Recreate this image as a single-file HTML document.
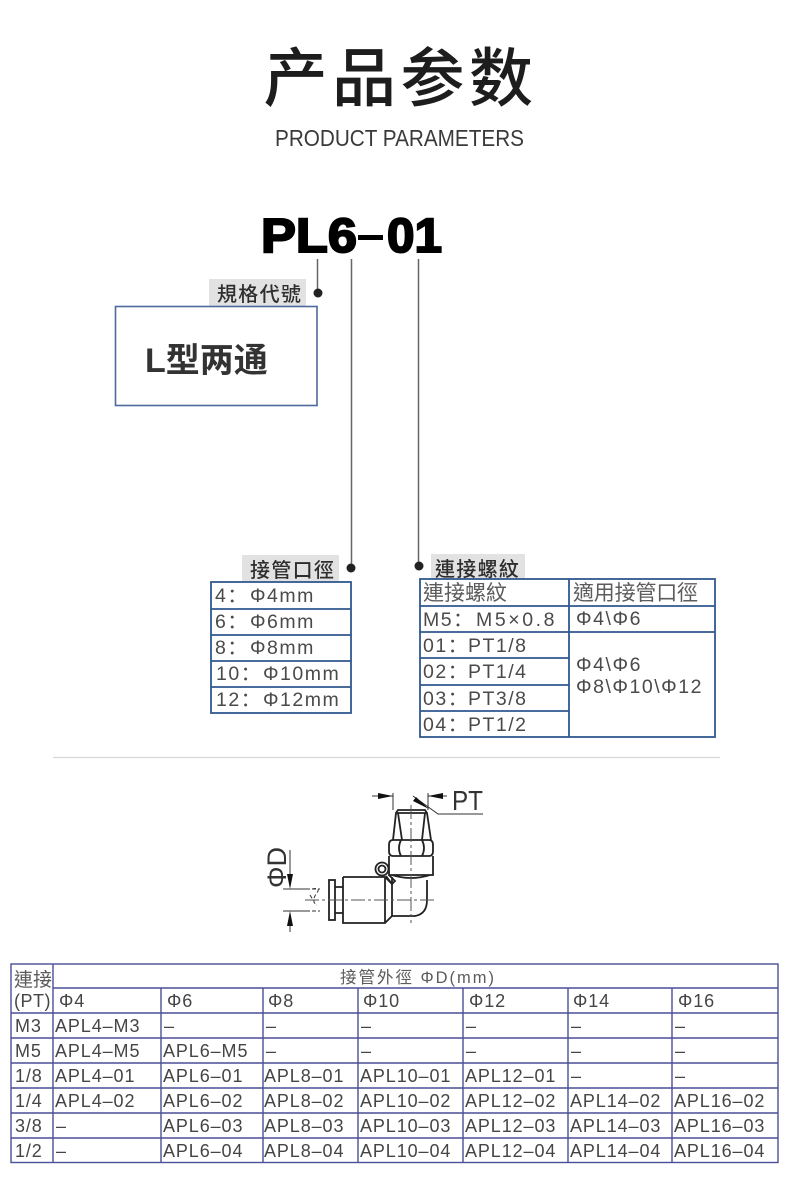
<!DOCTYPE html>
<html><head><meta charset="utf-8"><style>
html,body{margin:0;padding:0;background:#fff}
svg{display:block}
text{font-family:"Liberation Sans","Noto Sans CJK SC",sans-serif;fill:#444}
.c{font-size:18px;letter-spacing:.9px;fill:#454545}
.t{font-size:19.500px;letter-spacing:1.500px;fill:#4a4a4a}
.z{font-family:"Liberation Sans","Noto Sans CJK TC",sans-serif;font-size:19px;fill:#5c5c5c}
.l{font-family:"Liberation Sans","Noto Sans CJK TC",sans-serif;font-size:20px;fill:#2e2e2e;letter-spacing:1.300px;font-weight:500}
.d path,.d rect,.d circle,.d line{fill:none;stroke:#222;stroke-width:1.800}
</style></head><body>
<svg width="790" height="1189" viewBox="0 0 790 1189" xmlns="http://www.w3.org/2000/svg">
<rect width="790" height="1189" fill="#fff"/>
<text x="400.500" y="101" text-anchor="middle" style="font-family:'Noto Sans CJK SC',sans-serif;font-size:64px;font-weight:500;letter-spacing:4.500px;fill:#1d1d1d">产品参数</text>
<text x="275" y="146" textLength="249" lengthAdjust="spacingAndGlyphs" style="font-size:23px;fill:#3a3a3a">PRODUCT PARAMETERS</text>
<text x="261" y="252" textLength="96" lengthAdjust="spacingAndGlyphs" style="font-size:48px;font-weight:bold;fill:#000;stroke:#000;stroke-width:2">PL6</text>
<rect x="358" y="235" width="25" height="5" fill="#000"/>
<text x="387" y="252" textLength="55" lengthAdjust="spacingAndGlyphs" style="font-size:48px;font-weight:bold;fill:#000;stroke:#000;stroke-width:2">01</text>

<g stroke="#666" stroke-width="1.500" fill="none">
<line x1="317.500" y1="259" x2="317.500" y2="292"/>
<line x1="351.500" y1="259" x2="351.500" y2="567"/>
<line x1="418.500" y1="259" x2="418.500" y2="566"/>
</g>
<g fill="#222"><circle cx="318" cy="293" r="4.500"/><circle cx="351" cy="568" r="4.500"/><circle cx="419" cy="566" r="4.500"/></g>

<rect x="209" y="279" width="97" height="27" fill="#e2e2e2"/>
<text x="217" y="301" class="l">規格代號</text>
<rect x="115.500" y="306.500" width="201.500" height="99" fill="#fff" stroke="#4c6b9c" stroke-width="1.600"/>
<text x="145" y="372" style="font-family:'Liberation Sans','Noto Sans CJK SC',sans-serif;font-size:34px;font-weight:bold;fill:#333">L型两通</text>

<rect x="242" y="555" width="97" height="27" fill="#e2e2e2"/>
<text x="250" y="577" class="l">接管口徑</text>
<rect x="431" y="554" width="94" height="25" fill="#e2e2e2"/>
<text x="435" y="576" class="l">連接螺紋</text>

<!-- table 1 -->
<g stroke="#30588f" stroke-width="1.800" fill="none">
<rect x="211" y="582" width="140" height="131"/>
<path d="M211 609H351M211 635H351M211 661H351M211 687H351"/>
</g>
<text class="t" x="215" y="602">4：</text><text class="t" x="250" y="602">Φ4mm</text>
<text class="t" x="215" y="628">6：</text><text class="t" x="250" y="628">Φ6mm</text>
<text class="t" x="215" y="654">8：</text><text class="t" x="250" y="654">Φ8mm</text>
<text class="t" x="216" y="680">10：</text><text class="t" x="263" y="680">Φ10mm</text>
<text class="t" x="216" y="706">12：</text><text class="t" x="263" y="706">Φ12mm</text>

<!-- table 2 -->
<g stroke="#30588f" stroke-width="1.800" fill="none">
<rect x="420" y="579" width="295" height="158"/>
<path d="M569 579V737M420 606H715M420 632H715M420 658H569M420 685H569M420 711H569"/>
</g>
<text x="423" y="600" class="z" textLength="84" style="font-size:21px">連接螺紋</text>
<text x="573" y="600" class="z" textLength="125" style="font-size:21px">適用接管口徑</text>
<text class="t" x="423" y="626">M5：</text><text class="t" x="476" y="626" textLength="80">M5×0.8</text>
<text class="t" x="423" y="652">01：</text><text class="t" x="468" y="652">PT1/8</text>
<text class="t" x="423" y="678">02：</text><text class="t" x="468" y="678">PT1/4</text>
<text class="t" x="423" y="705">03：</text><text class="t" x="468" y="705">PT3/8</text>
<text class="t" x="423" y="731">04：</text><text class="t" x="468" y="731">PT1/2</text>
<text class="t" x="576" y="625" textLength="66">Φ4\Φ6</text>
<text class="t" x="576" y="671" textLength="66">Φ4\Φ6</text>
<text class="t" x="576" y="693" textLength="127">Φ8\Φ10\Φ12</text>

<line x1="53" y1="757.500" x2="720" y2="757.500" stroke="#d8d8d8" stroke-width="1.200"/>

<!-- drawing -->
<g class="d">
<path d="M393 840L396 813L398 810H425L427 813L431 840M396 813H427M398 813L402 840M425 813L422 840"/>
<path d="M393 840H429Q433 840 433 845V851Q433 856 429 856H393Q389 856 389 851V845Q389 840 393 840ZM401 840Q397 848 401 856M422 840Q426 848 422 856M401 840H422M401 856H422"/>
<path d="M389 856V875H433V856M392 875Q411 881 430 875M392 877V916H415Q427 914 427 900V880"/>
<path d="M343 877H385L392 884M343 877V923H385L392 916M385 877V923"/>
<rect x="329" y="880" width="6" height="40"/>
<path d="M335 887H343M335 913H343"/>
<circle cx="382" cy="869" r="6.500"/><circle cx="382" cy="869" r="3.500"/>
<path d="M386 876L392 884L395 881L389 875"/>
</g>
<g stroke="#333" stroke-width="1" fill="none">
<path d="M305 900H437" stroke-dasharray="14 3 3 3" stroke="#555"/>
<path d="M411 805V923" stroke-dasharray="14 3 3 3" stroke="#555"/>
<path d="M283 889H310M283 911H310"/>
<path d="M290 850V885M290 915V932"/>
<path d="M312 889Q322 887 316 894Q311 902 317 905M310 895L313 900M312 911H320M312 889H320" stroke-dasharray="4 2"/>
<path d="M372 796H393M428 796H447M393 793V810M428 793V810"/>
<path d="M413 796L438 814H483"/>
</g>
<g fill="#111">
<path d="M290 889L287 874H293Z"/>
<path d="M290 911L287 926H293Z"/>
<path d="M393 796L378 793V799Z"/>
<path d="M428 796L443 793V799Z"/>
<path d="M429 809L416 797L413 801Z"/>
</g>
<text x="452" y="810" textLength="31" lengthAdjust="spacingAndGlyphs" style="font-size:28px;fill:#333">PT</text>
<text transform="translate(286 888) rotate(-90)" style="font-size:27px;fill:#333">ΦD</text>

<!-- bottom table -->
<g stroke="#4a4f96" stroke-width="1.400" fill="none">
<rect x="11" y="964" width="767" height="198.500"/>
<path d="M53 964V1162.500M161 988V1162.500M263 988V1162.500M358 988V1162.500M463 988V1162.500M568 988V1162.500M672 988V1162.500"/>
<path d="M53 988H778M11 1013H778M11 1038H778M11 1063H778M11 1088H778M11 1113H778M11 1138H778"/>
</g>
<text x="14" y="986" class="z" textLength="38">連接</text>
<text x="14" y="1007" class="c" style="letter-spacing:.5px">(PT)</text>
<text x="340" y="983" class="z" textLength="154" style="font-size:16.500px">接管外徑 ΦD(mm)</text>
<g>
<text class="c" x="59" y="1007">Φ4</text><text class="c" x="167" y="1007">Φ6</text><text class="c" x="268" y="1007">Φ8</text><text class="c" x="363" y="1007">Φ10</text><text class="c" x="469" y="1007">Φ12</text><text class="c" x="573" y="1007">Φ14</text><text class="c" x="678" y="1007">Φ16</text>

<text class="c" x="15" y="1032">M3</text><text class="c" x="55" y="1032">APL4–M3</text><text class="c" x="164" y="1032">–</text><text class="c" x="266" y="1032">–</text><text class="c" x="361" y="1032">–</text><text class="c" x="466" y="1032">–</text><text class="c" x="571" y="1032">–</text><text class="c" x="675" y="1032">–</text>

<text class="c" x="15" y="1057">M5</text><text class="c" x="55" y="1057">APL4–M5</text><text class="c" x="163" y="1057">APL6–M5</text><text class="c" x="266" y="1057">–</text><text class="c" x="361" y="1057">–</text><text class="c" x="466" y="1057">–</text><text class="c" x="571" y="1057">–</text><text class="c" x="675" y="1057">–</text>

<text class="c" x="15" y="1082">1/8</text><text class="c" x="55" y="1082">APL4–01</text><text class="c" x="163" y="1082">APL6–01</text><text class="c" x="264" y="1082">APL8–01</text><text class="c" x="360" y="1082">APL10–01</text><text class="c" x="465" y="1082">APL12–01</text><text class="c" x="571" y="1082">–</text><text class="c" x="675" y="1082">–</text>

<text class="c" x="15" y="1107">1/4</text><text class="c" x="55" y="1107">APL4–02</text><text class="c" x="163" y="1107">APL6–02</text><text class="c" x="264" y="1107">APL8–02</text><text class="c" x="360" y="1107">APL10–02</text><text class="c" x="465" y="1107">APL12–02</text><text class="c" x="570" y="1107">APL14–02</text><text class="c" x="674" y="1107">APL16–02</text>

<text class="c" x="15" y="1132">3/8</text><text class="c" x="56" y="1132">–</text><text class="c" x="163" y="1132">APL6–03</text><text class="c" x="264" y="1132">APL8–03</text><text class="c" x="360" y="1132">APL10–03</text><text class="c" x="465" y="1132">APL12–03</text><text class="c" x="570" y="1132">APL14–03</text><text class="c" x="674" y="1132">APL16–03</text>

<text class="c" x="15" y="1157">1/2</text><text class="c" x="56" y="1157">–</text><text class="c" x="163" y="1157">APL6–04</text><text class="c" x="264" y="1157">APL8–04</text><text class="c" x="360" y="1157">APL10–04</text><text class="c" x="465" y="1157">APL12–04</text><text class="c" x="570" y="1157">APL14–04</text><text class="c" x="674" y="1157">APL16–04</text>
</g>
</svg>
</body></html>
